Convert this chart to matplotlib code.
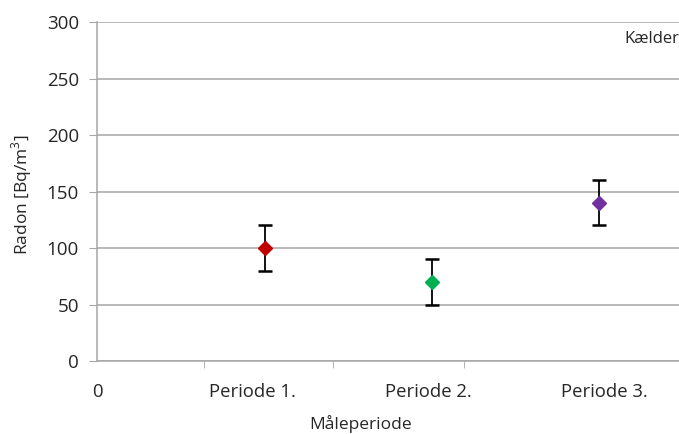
import matplotlib.pyplot as plt

plt.rcParams["font.family"] = ["Open Sans", "DejaVu Sans"]
plt.rcParams["mathtext.fontset"] = "custom"
plt.rcParams["mathtext.rm"] = "Open Sans"

# data
periods = ["Periode 1.", "Periode 2.", "Periode 3."]
radon = [100, 70, 140]
err = [20, 20, 20]
colors = ["#c00000", "#00b050", "#7030a0"]
y_ticks = [0, 50, 100, 150, 200, 250, 300]

# Excel-style category label / tick placement (slightly off the points)
label_pos = [0.93, 1.98, 3.03]
tick_marks = [0.64, 1.41, 2.19]

fig = plt.figure(figsize=(6.79, 4.34), dpi=100)
ax = fig.add_axes([0.1429, 0.1682, 0.8571, 0.7811])

xs = list(range(1, len(periods) + 1))
for x, y, e, c in zip(xs, radon, err, colors):
    ax.errorbar(x, y, yerr=e, fmt="none", ecolor="black", elinewidth=1.3,
                capsize=5, capthick=1.8, zorder=3)
    ax.plot(x, y, marker="D", markersize=7.5, color=c, linestyle="none", zorder=4)

ax.set_xlim(0, 3.475)
ax.set_ylim(0, 300)
ax.set_yticks(y_ticks)
ax.yaxis.grid(True, color="#a6a6a6", linewidth=1.1)
ax.set_axisbelow(True)

ax.set_xticks([0] + label_pos)
ax.set_xticklabels(["0"] + periods)
ax.set_xticks(tick_marks, minor=True)
ax.tick_params(axis="x", which="major", length=0, pad=16, labelsize=13.3,
               labelcolor="#262626")
ax.tick_params(axis="x", which="minor", length=5, color="#a6a6a6", direction="out")
ax.tick_params(axis="y", length=6, color="#a6a6a6", labelsize=13.5,
               labelcolor="#262626", pad=7)

for side in ["top", "right"]:
    ax.spines[side].set_visible(False)
for side in ["left", "bottom"]:
    ax.spines[side].set_color("#a6a6a6")
    ax.spines[side].set_linewidth(1.1)

ax.set_ylabel("Radon [Bq/m$^3$]", fontsize=12.5, color="#262626")
ax.yaxis.set_label_coords(-0.108, 0.49)
fig.text(0.531, 0.002, "Måleperiode", ha="center", va="bottom", fontsize=12.5,
         color="#262626")

ax.text(1.0, 0.95, "Kælder", transform=ax.transAxes, ha="right", va="center",
        fontsize=12, color="#262626")

fig.savefig("out.png", dpi=100)
